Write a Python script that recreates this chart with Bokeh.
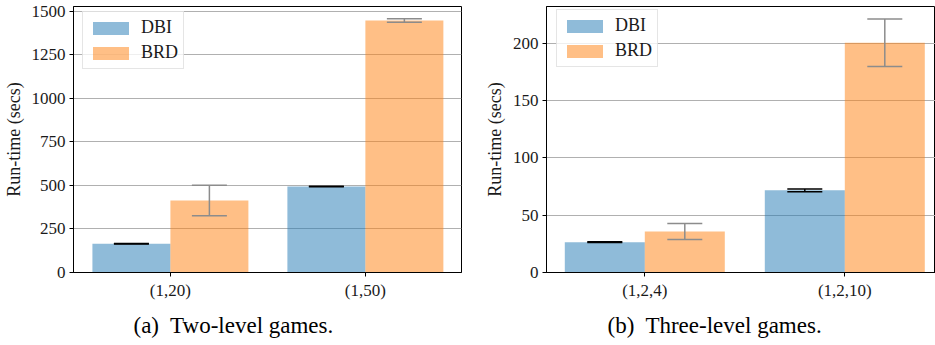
from bokeh.plotting import figure
from bokeh.models import (ColumnDataSource, Range1d, FixedTicker, Whisker, TeeHead)
from bokeh.layouts import row
from bokeh.embed import file_html
from bokeh.resources import INLINE

# ---- data ----
groups_a = ["(1,20)", "(1,50)"]
dbi_a = [165, 494]
dbi_a_err = [1.5, 1.5]
brd_a = [414, 1448]
brd_a_err = [88, 10]
yticks_a = [0, 250, 500, 750, 1000, 1250, 1500]

groups_b = ["(1,2,4)", "(1,2,10)"]
dbi_b = [26.4, 71.6]
dbi_b_err = [0.3, 1.3]
brd_b = [35.7, 200.4]
brd_b_err = [7.0, 20.7]
yticks_b = [0, 50, 100, 150, 200]

caption_a = "(a)\u00a0 Two-level games."
caption_b = "(b)\u00a0 Three-level games."
ylabel = "Run-time (secs)"
series = ["DBI", "BRD"]

BLUE = "#1f77b4"
ORANGE = "#ff7f0e"
FONT = "Liberation Serif"
TXT = "#1a1a1a"


def make_panel(groups, dbi, dbi_err, brd, brd_err, yticks, caption,
               width, min_left, min_right, min_top, xr, yr, legend_loc, cap_offset):
    p = figure(width=width, height=345, output_backend="svg", toolbar_location=None,
               x_range=Range1d(*xr), y_range=Range1d(*yr),
               min_border_left=min_left, min_border_right=min_right,
               min_border_top=min_top, min_border_bottom=73,
               title=caption, title_location="below")
    idx = list(range(len(groups)))
    xd = [i - 0.2 for i in idx]
    xb = [i + 0.2 for i in idx]
    sd = ColumnDataSource(dict(x=xd, top=dbi, up=[v + e for v, e in zip(dbi, dbi_err)],
                               lo=[v - e for v, e in zip(dbi, dbi_err)]))
    sb = ColumnDataSource(dict(x=xb, top=brd, up=[v + e for v, e in zip(brd, brd_err)],
                               lo=[v - e for v, e in zip(brd, brd_err)]))
    p.vbar(x="x", top="top", width=0.4, source=sd, fill_color=BLUE, fill_alpha=0.5,
           line_color=None, legend_label=series[0])
    p.vbar(x="x", top="top", width=0.4, source=sb, fill_color=ORANGE, fill_alpha=0.5,
           line_color=None, legend_label=series[1])

    for src, col in ((sd, "black"), (sb, "#8c8c8c")):
        w = Whisker(source=src, base="x", upper="up", lower="lo", line_color=col,
                    line_width=1.5, level="annotation",
                    upper_head=TeeHead(size=35, line_color=col, line_width=1.5),
                    lower_head=TeeHead(size=35, line_color=col, line_width=1.5))
        p.add_layout(w)

    # axes
    p.xaxis.ticker = FixedTicker(ticks=idx)
    p.xaxis.major_label_overrides = {i: g for i, g in zip(idx, groups)}
    p.yaxis.ticker = FixedTicker(ticks=yticks)
    for ax in (p.xaxis[0], p.yaxis[0]):
        ax.major_label_text_font = FONT
        ax.major_label_text_font_size = "17px"
        ax.major_label_text_color = TXT
        ax.axis_line_color = "black"
        ax.major_tick_line_color = "black"
        ax.major_tick_in = 0
        ax.major_tick_out = 4
        ax.minor_tick_line_color = None
        ax.major_label_standoff = 4
    p.yaxis.axis_label = ylabel
    p.yaxis.axis_label_text_font = FONT
    p.yaxis.axis_label_text_font_style = "normal"
    p.yaxis.axis_label_text_font_size = "18px"
    p.yaxis.axis_label_text_color = TXT
    p.yaxis.axis_label_standoff = 5

    p.xgrid.grid_line_color = None
    p.ygrid.grid_line_color = "#b0b0b0"
    p.ygrid.grid_line_width = 1
    p.outline_line_color = "black"
    p.outline_line_alpha = 1
    p.outline_line_width = 1

    p.title.text_font = FONT
    p.title.text_font_size = "23px"
    p.title.text_font_style = "normal"
    p.title.text_color = "black"
    p.title.align = "left"
    p.title.offset = cap_offset
    p.title.standoff = 16

    lg = p.legend[0]
    lg.location = legend_loc
    lg.label_text_font = FONT
    lg.label_text_font_size = "18px"
    lg.label_text_color = TXT
    lg.glyph_width = 45
    lg.glyph_height = 16
    lg.label_height = 20
    lg.label_standoff = 8
    lg.spacing = 4
    lg.padding = 5
    lg.margin = 0
    lg.border_line_color = "#cccccc"
    lg.border_line_width = 1
    lg.background_fill_alpha = 0.8
    return p


p1 = make_panel(groups_a, dbi_a, dbi_a_err, brd_a, brd_a_err, yticks_a, caption_a,
                width=470, min_left=73, min_right=9, min_top=6,
                xr=(-0.497, 1.493), yr=(0, 1528.7), legend_loc=(9, 203), cap_offset=60)
p2 = make_panel(groups_b, dbi_b, dbi_b_err, brd_b, brd_b_err, yticks_b, caption_b,
                width=465, min_left=76, min_right=0, min_top=5,
                xr=(-0.4915, 1.4535), yr=(0, 231.9), legend_loc=(10, 205), cap_offset=61)

layout = row(p1, p2, spacing=0)
open("out.html", "w").write(file_html(layout, INLINE))
